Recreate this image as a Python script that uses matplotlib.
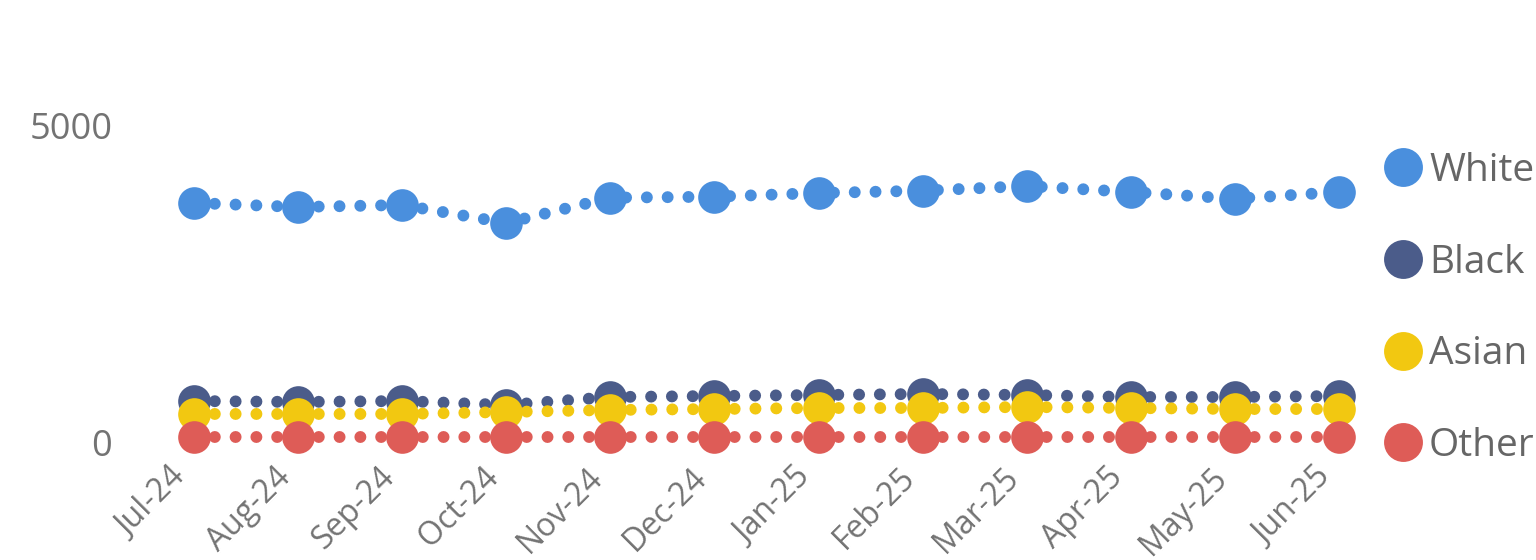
import matplotlib
matplotlib.use("Agg")
import matplotlib.pyplot as plt
from matplotlib.lines import Line2D
from matplotlib.transforms import ScaledTranslation

plt.rcParams['font.family'] = ['Open Sans', 'DejaVu Sans']

months = ['Jul-24', 'Aug-24', 'Sep-24', 'Oct-24', 'Nov-24', 'Dec-24',
          'Jan-25', 'Feb-25', 'Mar-25', 'Apr-25', 'May-25', 'Jun-25']
white = [3780, 3717, 3748, 3465, 3863, 3879, 3937, 3973, 4047, 3953, 3847, 3953]
black = [661, 646, 661, 598, 724, 740, 756, 772, 756, 724, 724, 740]
asian = [457, 457, 457, 488, 520, 535, 551, 551, 567, 551, 535, 535]
other = [87, 87, 87, 87, 87, 87, 87, 87, 87, 87, 87, 87]

series = [('White', white, '#4A8FDD'),
          ('Black', black, '#4B5C8A'),
          ('Asian', asian, '#F2C811'),
          ('Other', other, '#DE5C57')]

W, H = 1536, 560
fig = plt.figure(figsize=(W / 100, H / 100), dpi=100)
ax = fig.add_axes([140 / W, (H - 460) / H, (1365 - 140) / W, (460 - 100) / H])

x = list(range(len(months)))
handles = []
for name, vals, col in series:
    ax.plot(x, vals, color=col, lw=8.6, linestyle=(0, (0.001, 1.74)),
            dash_capstyle='round', solid_capstyle='round', clip_on=False)
    ax.plot(x, vals, 'o', color=col, ms=23.5, mew=0, clip_on=False)
    handles.append(Line2D([], [], marker='o', ls='none', color=col, ms=28, mew=0))

ax.set_xlim(-0.519, 11.25)
ax.set_ylim(-268, 5402)
ax.set_yticks([0, 5000])
ax.set_xticks(x)
ax.set_xticklabels(months, rotation=45, ha='right', va='center',
                   rotation_mode='anchor')
ax.tick_params(axis='y', length=0, pad=20, labelsize=26, labelcolor='#737373')
ax.tick_params(axis='x', length=0, pad=9, labelsize=23, labelcolor='#737373')
shift = ScaledTranslation(-9 / 72, 0, fig.dpi_scale_trans)
for lab in ax.get_xticklabels():
    lab.set_transform(lab.get_transform() + shift)
for s in ax.spines.values():
    s.set_visible(False)

fig.legend(handles, [s[0] for s in series], loc='upper left',
           bbox_to_anchor=(1384 / W, 1 - 152 / H), frameon=False,
           fontsize=28, labelcolor='#666666', handlelength=0.96,
           handletextpad=0.2, labelspacing=1.38, borderpad=0, borderaxespad=0)

# title sits mostly above the canvas, only descenders show (as in the reference)
fig.text(56 / W, 1 + 8 / H, 'Changes in Headcount by Department',
         fontsize=21, fontweight='bold', color='black', ha='left', va='baseline')

fig.savefig('out.png', dpi=100)
